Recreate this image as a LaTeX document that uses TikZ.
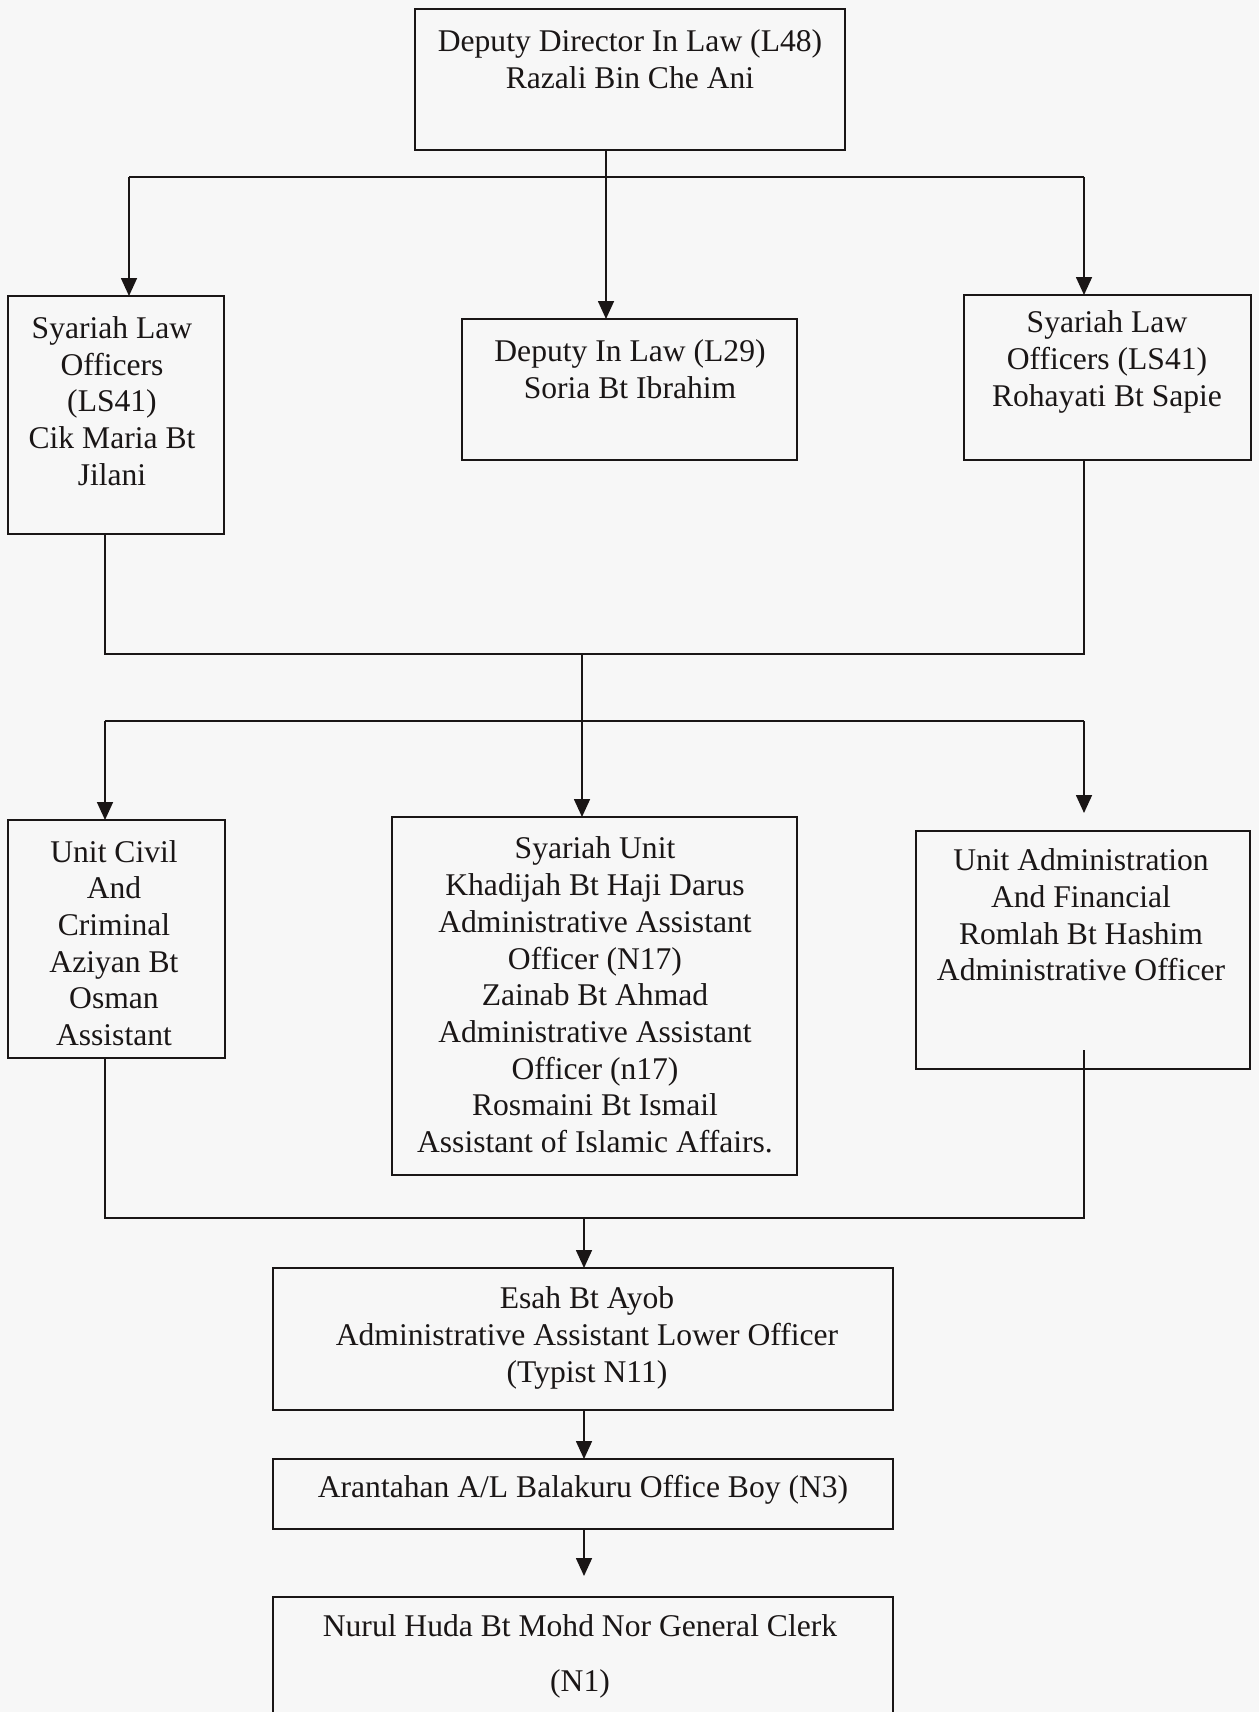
\documentclass[tikz,border=0pt]{standalone}
\usepackage{fontspec}
\setmainfont{Liberation Serif}
\usetikzlibrary{arrows.meta}
\definecolor{bg}{HTML}{F7F7F7}
\definecolor{ink}{HTML}{1A1616}
\begin{document}
\begin{tikzpicture}[x=1pt,y=-1pt,
  box/.style={draw=ink,line width=1.7pt,rectangle,inner sep=0pt,outer sep=0pt},
  txt/.style={align=center,inner sep=0pt,text=ink,font=\fontsize{31.6}{36.7}\selectfont},
  line/.style={draw=ink,line width=1.7pt},
  arr/.style={line,-{Triangle[length=18pt,width=16pt]}}]
\fill[bg] (0,0) rectangle (1259,1712);
\useasboundingbox (0,0) rectangle (1259,1712);
% boxes
\node[box,minimum width=430,minimum height=141] (top) at (630,79.5) {};
\node[box,minimum width=216,minimum height=238] (l1) at (116,415) {};
\node[box,minimum width=335,minimum height=141] (m1) at (629.5,389.5) {};
\node[box,minimum width=287,minimum height=165] (r1) at (1107.5,377.5) {};
\node[box,minimum width=217,minimum height=238] (l2) at (116.5,939) {};
\node[box,minimum width=405,minimum height=358] (m2) at (594.5,996) {};
\node[box,minimum width=334,minimum height=238] (r2) at (1083,950) {};
\node[box,minimum width=620,minimum height=142] (esah) at (583,1339) {};
\node[box,minimum width=620,minimum height=70] (aran) at (583,1494) {};
\node[box,minimum width=620,minimum height=133] (nurul) at (583,1663.5) {};
% texts
\node[txt] (ttop) at (630,59) {Deputy Director In Law (L48)\\Razali Bin Che Ani};
\node[txt] (tl1) at (112,401) {Syariah Law\\Officers\\(LS41)\\Cik Maria Bt\\Jilani};
\node[txt] (tm1) at (630,369) {Deputy In Law (L29)\\Soria Bt Ibrahim};
\node[txt] (tr1) at (1107,362) {Syariah Law\\Officers (LS41)\\Rohayati Bt Sapie};
\node[txt] (tl2) at (114,943) {Unit Civil\\And\\Criminal\\Aziyan Bt\\Osman\\Assistant};
\node[txt] (tm2) at (595,995) {Syariah Unit\\Khadijah Bt Haji Darus\\Administrative Assistant\\Officer (N17)\\Zainab Bt Ahmad\\Administrative Assistant\\Officer (n17)\\Rosmaini Bt Ismail\\Assistant of Islamic Affairs.};
\node[txt] (tr2) at (1081,915) {Unit Administration\\And Financial\\Romlah Bt Hashim\\Administrative Officer};
\node[txt] (tesah) at (587,1338) {Esah Bt Ayob\\Administrative Assistant Lower Officer\\(Typist N11)};
\node[txt] (taran) at (583,1490) {Arantahan A/L Balakuru Office Boy (N3)};
\node[txt,font=\fontsize{31.6}{55}\selectfont] (tnurul) at (580,1656) {Nurul Huda Bt Mohd Nor General Clerk\\(N1)};
% junctions
\coordinate (aC) at (606,177);
\coordinate (aL) at (129,177);
\coordinate (aR) at (1084,177);
\coordinate (bL) at (105,654);
\coordinate (bR) at (1084,654);
\coordinate (bC) at (582,654);
\coordinate (cL) at (105,721);
\coordinate (cR) at (1084,721);
\coordinate (cRend) at (1084,813);
\coordinate (dL) at (105,1218);
\coordinate (dR) at (1084,1218);
\coordinate (dRtop) at (1084,1050);
\coordinate (dC) at (584,1218);
\coordinate (eEnd) at (584,1576);
% connectors, first level
\draw[line] (aC |- top.south) -- (aC);
\draw[line] (aL) -- (aR);
\draw[arr] (aC) -- (aC |- m1.north);
\draw[arr] (aL) -- (aL |- l1.north);
\draw[arr] (aR) -- (aR |- r1.north);
% second level
\draw[line] (bL |- l1.south) -- (bL) -- (bR) -- (bR |- r1.south);
\draw[arr] (bC) -- (bC |- m2.north);
\draw[line] (cL) -- (cR);
\draw[arr] (cL) -- (cL |- l2.north);
\draw[arr] (cR) -- (cRend);
% third level
\draw[line] (dL |- l2.south) -- (dL) -- (dR) -- (dRtop);
\draw[arr] (dC) -- (dC |- esah.north);
\draw[arr] (esah.south -| dC) -- (aran.north -| dC);
\draw[arr] (aran.south -| dC) -- (eEnd);
\end{tikzpicture}
\end{document}
